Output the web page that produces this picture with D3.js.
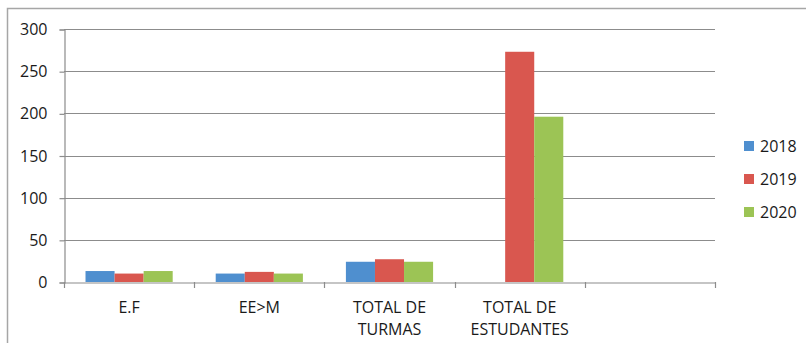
<!DOCTYPE html>
<html>
<head>
<meta charset="utf-8">
<script src="https://cdn.jsdelivr.net/npm/d3@7"></script>
<style>
  html, body { margin: 0; padding: 0; background: #fff; }
  svg { display: block; }
  text { font-family: "Open Sans", "Liberation Sans", sans-serif; fill: #1a1a1a; }
</style>
</head>
<body>
<svg id="chart" width="806" height="343"></svg>
<script>
// Categories (last slot is an empty category)
const categories = ["E.F", "EE>M", "TOTAL DE\nTURMAS", "TOTAL DE\nESTUDANTES", ""];
const seriesNames = ["2018", "2019", "2020"];
const values2018 = [13, 10, 24, null, null];
const values2019 = [10, 12, 27, 273, null];
const values2020 = [13, 10, 24, 196, null];
const yTicks = [0, 50, 100, 150, 200, 250, 300];
const colors = ["#4f8fcf", "#d9574f", "#9cc455"];

const seriesValues = [values2018, values2019, values2020];

const svg = d3.select("#chart");
const plot = { left: 64, right: 715, top: 29, bottom: 282 };
const fontSize = 16;

// Outer chart frame
svg.append("path")
  .attr("d", "M7.5,343 V8.5 H806")
  .attr("fill", "none")
  .attr("stroke", "#a6a6a6")
  .attr("stroke-width", 1.5);

const x = d3.scaleBand()
  .domain(d3.range(categories.length))
  .range([plot.left, plot.right])
  .paddingInner(0).paddingOuter(0);

const x1 = d3.scaleBand()
  .domain(d3.range(seriesNames.length))
  .range([0, x.bandwidth()])
  .paddingInner(0)
  .paddingOuter(0.74);

const y = d3.scaleLinear().domain([0, 300]).range([plot.bottom, plot.top]);

// Horizontal gridlines
svg.append("g").selectAll("line")
  .data(yTicks.filter(d => d > 0))
  .join("line")
  .attr("x1", plot.left).attr("x2", plot.right)
  .attr("y1", d => Math.round(y(d)) + 0.5).attr("y2", d => Math.round(y(d)) + 0.5)
  .attr("stroke", "#8c8c8c").attr("stroke-width", 1.2);

// Y axis
const yAxis = d3.axisLeft(y).tickValues(yTicks).tickSize(5).tickPadding(12);
const gy = svg.append("g").attr("transform", `translate(${plot.left + 0.5},0.5)`).call(yAxis);
gy.select(".domain").attr("stroke", "#8c8c8c").attr("stroke-width", 1.2);
gy.selectAll(".tick line").attr("stroke", "#8c8c8c").attr("stroke-width", 1.2);
gy.selectAll(".tick text")
  .attr("font-size", fontSize)
  .style("font-family", "'Open Sans', 'Liberation Sans', sans-serif")
  .attr("fill", "#1a1a1a");

// Bars
categories.forEach((cat, ci) => {
  seriesValues.forEach((vals, si) => {
    const v = vals[ci];
    if (v == null) return;
    svg.append("rect")
      .attr("x", x(ci) + x1(si))
      .attr("y", y(v))
      .attr("width", x1.bandwidth())
      .attr("height", y(0) - y(v))
      .attr("fill", colors[si]);
  });
});

// X axis
const xAxis = d3.axisBottom(x).tickSize(0).tickFormat(() => "");
const gx = svg.append("g").attr("transform", `translate(0,${Math.round(plot.bottom) + 0.5})`).call(xAxis);
gx.select(".domain").attr("stroke", "#8c8c8c").attr("stroke-width", 1.2);

// Category boundary tick marks
const boundaries = d3.range(categories.length + 1).map(i => plot.left + i * x.step());
svg.append("g").selectAll("line")
  .data(boundaries)
  .join("line")
  .attr("x1", d => Math.round(d) + 0.5).attr("x2", d => Math.round(d) + 0.5)
  .attr("y1", plot.bottom).attr("y2", plot.bottom + 6)
  .attr("stroke", "#8c8c8c").attr("stroke-width", 1.2);

// Category labels (multi-line)
categories.forEach((cat, ci) => {
  const lines = cat.split("\n");
  const t = svg.append("text")
    .attr("x", x(ci) + x.bandwidth() / 2)
    .attr("y", 313)
    .attr("text-anchor", "middle")
    .attr("font-size", fontSize);
  lines.forEach((ln, li) => {
    t.append("tspan")
      .attr("x", x(ci) + x.bandwidth() / 2)
      .attr("dy", li === 0 ? 0 : 22)
      .text(ln);
  });
});

// Legend
const legend = svg.append("g").attr("transform", "translate(744,146)");
seriesNames.forEach((name, i) => {
  const g = legend.append("g").attr("transform", `translate(0,${i * 33})`);
  g.append("rect").attr("x", 0).attr("y", -5).attr("width", 10).attr("height", 10).attr("fill", colors[i]);
  g.append("text").attr("x", 16).attr("y", 6).attr("font-size", fontSize).text(name);
});
</script>
</body>
</html>
